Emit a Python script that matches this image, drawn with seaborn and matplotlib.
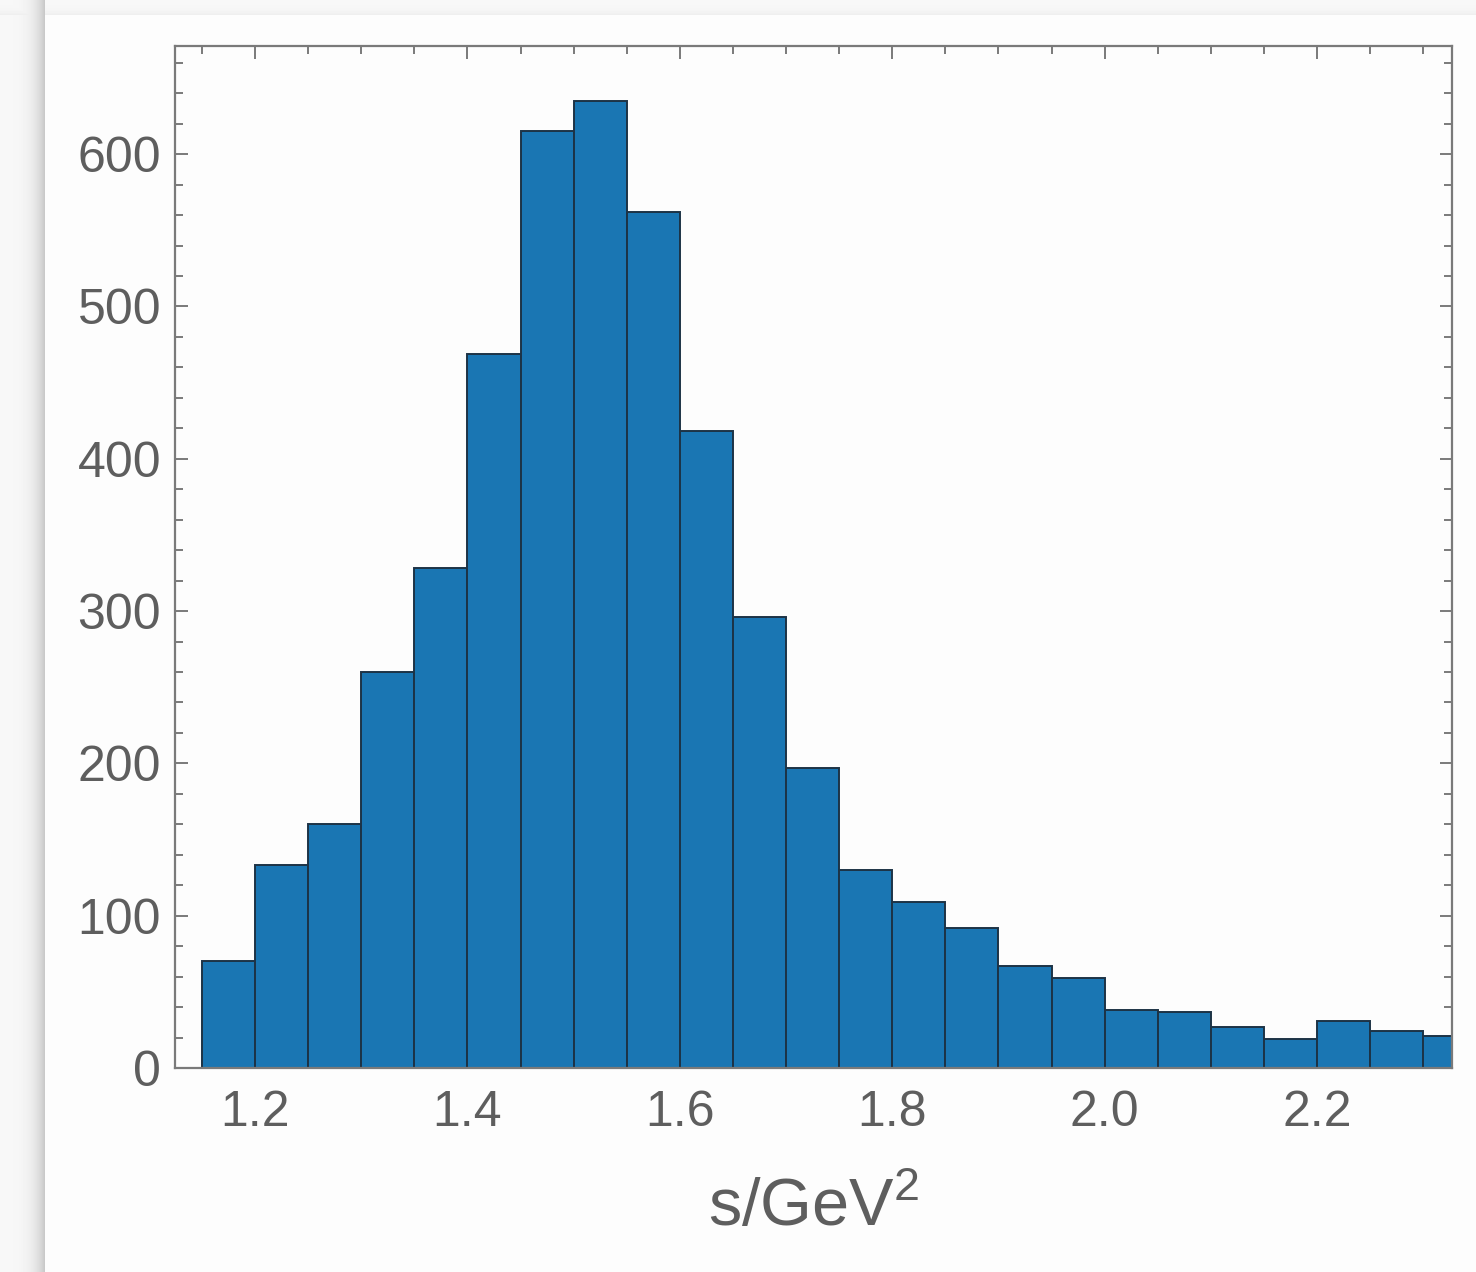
import numpy as np
import pandas as pd
import matplotlib
matplotlib.use("Agg")
import matplotlib.pyplot as plt
import seaborn as sns
from matplotlib.ticker import MultipleLocator

# ---- data ----
bin_edges = [1.15, 1.20, 1.25, 1.30, 1.35, 1.40, 1.45, 1.50, 1.55, 1.60, 1.65, 1.70,
             1.75, 1.80, 1.85, 1.90, 1.95, 2.00, 2.05, 2.10, 2.15, 2.20, 2.25, 2.30, 2.35]
bin_centers = [1.175, 1.225, 1.275, 1.325, 1.375, 1.425, 1.475, 1.525, 1.575, 1.625,
               1.675, 1.725, 1.775, 1.825, 1.875, 1.925, 1.975, 2.025, 2.075, 2.125,
               2.175, 2.225, 2.275, 2.325]
counts = [70, 133, 160, 260, 328, 469, 615, 635, 562, 418, 296, 197, 130, 109, 92,
          67, 59, 38, 37, 27, 19, 31, 24, 21]
x_ticks = [1.2, 1.4, 1.6, 1.8, 2.0, 2.2]
y_ticks = [0, 100, 200, 300, 400, 500, 600]
x_label = r"$\mathregular{s/GeV^2}$"

df = pd.DataFrame({"s": bin_centers, "n": counts})

sns.set_theme(style="white")
plt.rcParams['font.family'] = ['Liberation Sans', 'DejaVu Sans']
plt.rcParams['mathtext.fontset'] = 'custom'
plt.rcParams['mathtext.rm'] = 'Liberation Sans'

W, H = 1476, 1272
fig = plt.figure(figsize=(W / 100, H / 100), dpi=100)
fig.patch.set_facecolor("#fdfdfd")

# page shadow background
bg = fig.add_axes([0, 0, 1, 1], zorder=-10)
img = np.ones((H, W)) * 0.992
xs = np.arange(W)
ys = np.arange(H)
img[:, :45] = np.tile(0.97 - 0.20 * ((xs[:45] / 45.0) ** 4), (H, 1))
img[:15, :] = np.minimum(img[:15, :], np.tile((0.97 - 0.04 * (ys[:15] / 15.0) ** 3)[:, None], (1, W)))
bg.imshow(img, cmap="gray", vmin=0, vmax=1, aspect="auto", extent=[0, W, H, 0])
bg.set_axis_off()

ax = fig.add_axes([175 / W, 1 - 1068 / H, (1452 - 175) / W, (1068 - 46) / H])
ax.set_facecolor("#fdfdfd")

sns.histplot(data=df, x="s", weights="n", bins=bin_edges, ax=ax,
             color="#1a76b3", alpha=1.0, edgecolor="#1d3346", linewidth=1.4)

ax.set_xlim(1.1247, 2.327)
ax.set_ylim(0, 671)
ax.set_xticks(x_ticks)
ax.set_xticklabels([f"{v:.1f}" for v in x_ticks])
ax.set_yticks(y_ticks)
ax.set_yticklabels([str(v) for v in y_ticks])
ax.xaxis.set_minor_locator(MultipleLocator(0.05))
ax.yaxis.set_minor_locator(MultipleLocator(20))

frame_col = "#7a7a7a"
for sp in ax.spines.values():
    sp.set_color(frame_col)
    sp.set_linewidth(1.6)
    sp.set_visible(True)

ax.tick_params(which="both", direction="in", top=True, right=True, bottom=True, left=True,
               color=frame_col, width=1.4)
ax.tick_params(which="major", length=9)
ax.tick_params(which="minor", length=6)
ax.tick_params(axis="x", which="major", labelsize=36, labelcolor="#5e5e5e", pad=16)
ax.tick_params(axis="y", which="major", labelsize=36, labelcolor="#5e5e5e", pad=10)

ax.set_xlabel(x_label, fontsize=48, color="#5e5e5e", labelpad=30)
ax.set_ylabel("")

fig.savefig("out.png", dpi=100, facecolor=fig.get_facecolor())
